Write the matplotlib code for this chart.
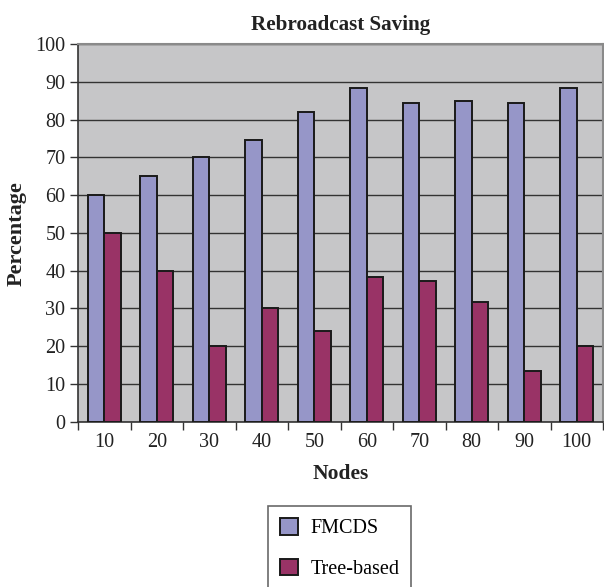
import matplotlib
matplotlib.use("Agg")
import matplotlib.pyplot as plt
import numpy as np

nodes = ["10", "20", "30", "40", "50", "60", "70", "80", "90", "100"]
fmcds = [60, 65, 70, 74.6, 82.1, 88.3, 84.4, 85.0, 84.4, 88.3]
tree_based = [50, 40, 20, 30, 24, 38.3, 37.2, 31.6, 13.4, 20]
y_ticks = [0, 10, 20, 30, 40, 50, 60, 70, 80, 90, 100]

plt.rcParams['font.family'] = ['Liberation Serif', 'DejaVu Serif']

fig = plt.figure(figsize=(6.04, 5.87), dpi=100)
ax = fig.add_axes([78 / 604, (587 - 421.7) / 587, 525 / 604, 377.7 / 587])
ax.set_facecolor('#c6c6c8')

x = np.arange(len(nodes))
w = 0.31
ax.bar(x - w / 2, fmcds, w, color='#9696c8', edgecolor='#1a1a1a', linewidth=1.4,
       label='FMCDS', zorder=3)
ax.bar(x + w / 2, tree_based, w, color='#993366', edgecolor='#1a1a1a', linewidth=1.4,
       label='Tree-based', zorder=3)

ax.set_xlim(-0.5, len(nodes) - 0.5)
ax.set_ylim(0, 100)
ax.set_yticks(y_ticks)
ax.set_yticklabels([str(v) for v in y_ticks], fontsize=14.5, color='#222222')
ax.set_xticks(x)
ax.set_xticklabels(nodes, fontsize=14.5, color='#222222')
ax.tick_params(axis='x', length=0, pad=8)
ax.set_xticks(np.arange(-0.5, len(nodes)), minor=True)
ax.tick_params(axis='x', which='minor', length=6, width=1, color='#333333', direction='out')
ax.tick_params(axis='y', length=6, width=1, color='#333333', direction='out', pad=3)

ax.yaxis.grid(True, color='#333333', linewidth=1.0, zorder=1)
ax.set_axisbelow(True)

for side in ['top', 'right']:
    ax.spines[side].set_color('#8a8a8a')
    ax.spines[side].set_linewidth(1.5)
ax.spines['left'].set_color('#333333')
ax.spines['bottom'].set_color('#333333')
ax.spines['left'].set_linewidth(1.2)
ax.spines['bottom'].set_linewidth(1.2)

fig.text(341 / 604, 1 - 25 / 587, 'Rebroadcast Saving', ha='center', va='center',
         fontsize=15.2, fontweight='bold', color='#222222')
fig.text(17 / 604, 1 - 234 / 587, 'Percentage', ha='center', va='center',
         rotation=90, fontsize=16, fontweight='bold', color='#222222')
fig.text(341 / 604, 1 - 474 / 587, 'Nodes', ha='center', va='center',
         fontsize=15.5, fontweight='bold', color='#222222')

handles, labels = ax.get_legend_handles_labels()
leg = fig.legend(handles, labels, loc='upper left',
                 bbox_to_anchor=(268 / 604, 1 - 506 / 587), fontsize=14.5,
                 frameon=True, fancybox=False, handlelength=0.9, handleheight=0.9,
                 handletextpad=0.6, labelspacing=1.0, borderpad=0.6,
                 borderaxespad=0)
leg.get_frame().set_edgecolor('#444444')
leg.get_frame().set_linewidth(1.2)

fig.savefig('out.png', dpi=100, facecolor='white')
